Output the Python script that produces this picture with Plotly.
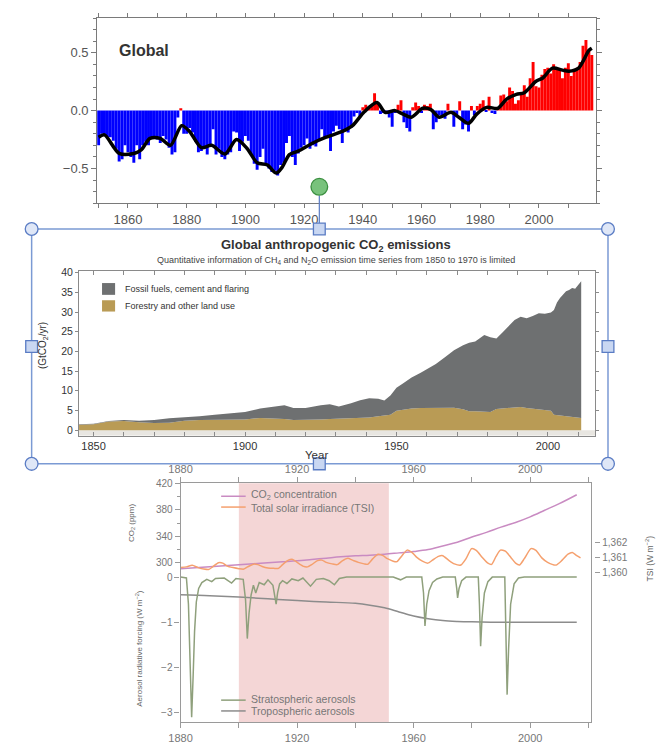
import plotly.graph_objects as go

W, H = 662, 744
def px(x):
    return x / W
def py(y):
    return 1 - y / H

FONT = "Liberation Sans"

# ---------------- Panel 1: Global temperature anomaly ----------------
temp_years = list(range(1850, 2019))
temp_anom = [
    -0.30, -0.20, -0.21, -0.24, -0.23, -0.26, -0.33, -0.44, -0.42, -0.30,
    -0.36, -0.40, -0.45, -0.30, -0.42, -0.30, -0.27, -0.30, -0.24, -0.23,
    -0.25, -0.28, -0.22, -0.25, -0.32, -0.38, -0.36, -0.06, 0.02, -0.20,
    -0.20, -0.15, -0.19, -0.27, -0.36, -0.35, -0.33, -0.38, -0.30, -0.16,
    -0.38, -0.33, -0.40, -0.42, -0.38, -0.36, -0.18, -0.19, -0.35, -0.27,
    -0.22, -0.26, -0.38, -0.46, -0.51, -0.40, -0.33, -0.47, -0.50, -0.53,
    -0.52, -0.56, -0.47, -0.45, -0.28, -0.22, -0.40, -0.47, -0.37, -0.32,
    -0.30, -0.24, -0.33, -0.30, -0.31, -0.25, -0.16, -0.24, -0.23, -0.35,
    -0.18, -0.13, -0.16, -0.28, -0.16, -0.19, -0.15, -0.05, -0.02, -0.05,
    0.03, 0.05, 0.02, 0.04, 0.15, 0.06, -0.03, -0.02, -0.03, -0.06,
    -0.14, -0.02, 0.05, 0.09, -0.10, -0.15, -0.18, 0.03, 0.07, 0.04,
    -0.02, 0.05, 0.04, 0.06, -0.16, -0.10, -0.04, -0.04, -0.07, 0.06,
    0.00, -0.14, -0.04, 0.08, -0.16, -0.12, -0.18, 0.04, -0.04, 0.04,
    0.06, 0.09, -0.01, 0.12, -0.02, -0.03, 0.03, 0.13, 0.14, 0.08,
    0.20, 0.17, 0.06, 0.09, 0.14, 0.22, 0.12, 0.28, 0.42, 0.21,
    0.20, 0.31, 0.36, 0.37, 0.32, 0.40, 0.37, 0.36, 0.28, 0.37,
    0.41, 0.30, 0.34, 0.37, 0.42, 0.56, 0.61, 0.52, 0.48,
]
smooth_years = [1850, 1852, 1857, 1862, 1864.5, 1867.5, 1871, 1874.5, 1878.3, 1881,
                1885, 1888.5, 1893, 1897, 1900.5, 1904, 1907.5, 1910.5, 1912.5, 1915,
                1918, 1923, 1927.5, 1933, 1936.5, 1940.5, 1944.8, 1947.6, 1951, 1953.7,
                1956.5, 1960.4, 1963.2, 1966, 1970, 1972.7, 1976, 1978.8, 1982.2, 1986,
                1989, 1992.3, 1995, 1999, 2001.2, 2004.6, 2008, 2010.2, 2013.5, 2017, 2018]
smooth_vals = [-0.23, -0.21, -0.37, -0.37, -0.34, -0.24, -0.24, -0.30, -0.13, -0.18,
               -0.32, -0.30, -0.375, -0.25, -0.325, -0.45, -0.47, -0.54, -0.49, -0.38,
               -0.35, -0.28, -0.23, -0.18, -0.13, -0.01, 0.07, -0.015, 0.0, -0.03,
               -0.057, 0.02, 0.008, -0.057, -0.015, -0.057, -0.11, -0.03, 0.028, 0.02,
               0.10, 0.14, 0.155, 0.254, 0.28, 0.367, 0.35, 0.34, 0.367, 0.52, 0.54]

# ---------------- Panel 2: CO2 emissions (GtCO2/yr) ----------------
emis_years = [1845, 1850, 1855, 1860, 1865, 1870, 1875, 1880, 1885, 1890,
              1895, 1900, 1905, 1910, 1913, 1916, 1920, 1925, 1928, 1931,
              1935, 1938, 1941, 1944, 1946, 1948, 1950, 1952, 1955, 1958,
              1960, 1963, 1966, 1969, 1972, 1974, 1976, 1979, 1981, 1983,
              1985, 1987, 1989, 1991, 1993, 1995, 1997, 1999, 2001, 2002,
              2003, 2004, 2005, 2006, 2007, 2008, 2009, 2010, 2011]
forestry = [1.35, 1.5, 2.2, 2.35, 2.0, 1.8, 1.9, 2.4, 2.6, 2.6,
            2.6, 2.7, 3.1, 3.0, 2.8, 2.6, 2.6, 2.7, 2.8, 2.9,
            2.9, 3.0, 3.2, 3.5, 3.7, 3.9, 4.9, 5.2, 5.5, 5.6,
            5.6, 5.6, 5.7, 5.7, 5.3, 4.8, 4.8, 4.7, 4.6, 5.4,
            5.5, 5.6, 5.8, 5.9, 5.6, 5.4, 5.2, 5.0, 4.9, 3.9,
            3.8, 3.7, 3.6, 3.6, 3.5, 3.4, 3.3, 3.2, 3.1]
fossil = [0.15, 0.1, 0.1, 0.25, 0.4, 0.8, 1.1, 0.8, 0.9, 1.3,
          1.6, 1.9, 2.4, 3.1, 3.5, 3.0, 3.0, 3.6, 3.8, 3.1,
          3.9, 4.6, 4.9, 4.5, 3.8, 4.9, 5.9, 6.6, 7.9, 9.0,
          9.8, 11.2, 12.8, 14.6, 16.3, 17.4, 17.7, 19.5, 19.0, 17.9,
          19.3, 20.7, 22.2, 22.9, 22.8, 23.6, 24.5, 24.6, 25.0, 26.6,
          28.6, 29.9, 30.9, 31.7, 32.1, 32.7, 32.6, 33.6, 34.7]

# ---------------- Panel 3: forcings ----------------
co2_years = [1880, 1885, 1890, 1895, 1900, 1905, 1910, 1915, 1920, 1925, 1930, 1935,
             1940, 1945, 1950, 1955, 1960, 1965, 1970, 1975, 1980, 1985, 1990, 1995,
             2000, 2005, 2010, 2016]
co2_ppm = [291, 292.5, 294, 295.5, 297, 298.5, 300, 301.5, 303, 305, 307, 309,
           310.5, 311.5, 313, 315, 317, 320, 325.5, 331, 339, 346, 354, 361,
           369.5, 379.5, 389.5, 403]

tsi_years = [1880, 1882, 1884, 1886, 1888, 1889.6, 1891, 1893, 1894.5, 1896, 1898, 1900,
             1901.7, 1903, 1905, 1906.5, 1908, 1910, 1912, 1913.6, 1915, 1917, 1918.5,
             1920, 1922, 1923.6, 1925, 1927, 1928.5, 1930, 1932, 1933.8, 1935.5, 1937.4,
             1939, 1941, 1943, 1944.2, 1946, 1947.8, 1949.5, 1951, 1953, 1954.3, 1956,
             1957.8, 1959.5, 1961, 1963, 1964.9, 1966.5, 1968.5, 1970, 1972, 1974,
             1976.2, 1978, 1979.9, 1981.5, 1983.5, 1985.5, 1986.8, 1988.3, 1989.8,
             1991.5, 1993.5, 1995, 1996.4, 1998, 2000.3, 2002, 2004, 2006, 2008.9,
             2011, 2013, 2014.5, 2016, 2017.3]
tsi_vals = [1360.35, 1360.40, 1360.50, 1360.35, 1360.25, 1360.22, 1360.40, 1360.68, 1360.65,
            1360.45, 1360.35, 1360.28, 1360.25, 1360.40, 1360.58, 1360.55, 1360.42, 1360.32,
            1360.30, 1360.30, 1360.55, 1360.85, 1360.90, 1360.70, 1360.45, 1360.40, 1360.55,
            1360.82, 1360.85, 1360.70, 1360.60, 1360.55, 1360.80, 1360.97, 1360.85, 1360.70,
            1360.60, 1360.57, 1360.95, 1361.25, 1361.15, 1360.95, 1360.78, 1360.75, 1361.15,
            1361.52, 1361.35, 1361.05, 1360.78, 1360.65, 1360.85, 1361.10, 1361.15, 1360.85,
            1360.60, 1360.52, 1360.95, 1361.62, 1361.50, 1361.05, 1360.65, 1360.57, 1361.10,
            1361.52, 1361.45, 1361.00, 1360.65, 1360.53, 1360.95, 1361.62, 1361.50, 1361.00,
            1360.70, 1360.52, 1360.85, 1361.25, 1361.36, 1361.15, 1361.00]

strat_years = [1880, 1882.0, 1882.7, 1883.3, 1883.8, 1884.3, 1884.8, 1885.4, 1886.2, 1887.3,
               1889, 1890.7, 1892, 1895, 1897.5, 1899, 1901.5, 1902.3, 1902.9, 1903.5,
               1904.2, 1905, 1905.8, 1907, 1908.7, 1910, 1911.7, 1912.4, 1912.8, 1913.3,
               1914, 1915, 1916.5, 1918.2, 1920.4, 1922, 1924.6, 1926.6, 1929, 1931,
               1932.8, 1934.5, 1937, 1953, 1955.5, 1957.5, 1962.8, 1963.4, 1963.9, 1964.5,
               1965.3, 1966.5, 1968, 1970, 1974.3, 1974.8, 1975.1, 1975.6, 1976.5, 1978,
               1982.2, 1982.6, 1983.0, 1983.5, 1984.3, 1985.5, 1987, 1991.3, 1991.7, 1992.1,
               1992.6, 1993.3, 1994.5, 1996, 1998, 2016]
strat_vals = [0.0, -0.02, -0.6, -2.2, -3.1, -2.2, -1.2, -0.55, -0.25, -0.12,
              -0.05, -0.10, -0.03, -0.02, -0.13, -0.03, -0.05, -0.5, -1.36, -0.8,
              -0.4, -0.18, -0.35, -0.12, -0.17, -0.06, -0.18, -0.45, -0.6, -0.35,
              -0.15, -0.08, -0.14, -0.04, -0.08, -0.02, -0.2, -0.05, -0.03, -0.08,
              -0.17, -0.03, 0.0, 0.0, -0.06, 0.0, 0.0, -0.35, -1.08, -0.6,
              -0.3, -0.12, -0.04, 0.0, 0.0, -0.25, -0.46, -0.25, -0.08, 0.0,
              0.0, -0.6, -1.53, -0.9, -0.35, -0.1, 0.0, 0.0, -1.2, -2.6,
              -1.6, -0.6, -0.15, -0.02, 0.0, 0.0]

trop_years = [1880, 1890, 1900, 1910, 1920, 1930, 1940, 1945, 1950, 1955, 1960, 1965,
              1970, 1975, 1980, 1990, 2000, 2010, 2016]
trop_vals = [-0.39, -0.41, -0.44, -0.48, -0.52, -0.55, -0.58, -0.62, -0.68, -0.77, -0.86,
             -0.92, -0.96, -0.98, -0.99, -1.0, -1.0, -1.0, -1.0]

TAN = "#b99b55"
GREY = "#6e7071"
RED = "#ff0000"
BLUE = "#0000ff"

fig = go.Figure()

bar_colors = [RED if v >= 0 else BLUE for v in temp_anom]
fig.add_trace(go.Bar(x=temp_years, y=temp_anom, width=1,
                     marker=dict(color=bar_colors, line=dict(width=0)),
                     xaxis="x", yaxis="y", showlegend=False, hoverinfo="skip"))
fig.add_trace(go.Scatter(x=smooth_years, y=smooth_vals, mode="lines",
                         line=dict(color="#000000", width=3.5, shape="spline", smoothing=0.8),
                         xaxis="x", yaxis="y", showlegend=False))

fig.add_trace(go.Scatter(x=emis_years, y=forestry, stackgroup="emis", mode="lines",
                         line=dict(width=0, color=TAN), fillcolor=TAN,
                         xaxis="x2", yaxis="y2", showlegend=False,
                         name="Forestry and other land use"))
fig.add_trace(go.Scatter(x=emis_years, y=fossil, stackgroup="emis", mode="lines",
                         line=dict(width=0, color=GREY), fillcolor=GREY,
                         xaxis="x2", yaxis="y2", showlegend=False,
                         name="Fossil fuels, cement and flaring"))

C_CO2 = "#c98bc2"
C_TSI = "#f5a06e"
C_STRAT = "#8fa07c"
C_TROP = "#8c8c8c"
fig.add_trace(go.Scatter(x=trop_years, y=trop_vals, mode="lines",
                         line=dict(color=C_TROP, width=1.5, shape="spline"),
                         xaxis="x3", yaxis="y3", showlegend=False))
fig.add_trace(go.Scatter(x=strat_years, y=strat_vals, mode="lines",
                         line=dict(color=C_STRAT, width=1.5),
                         xaxis="x3", yaxis="y3", showlegend=False))
fig.add_trace(go.Scatter(x=co2_years, y=co2_ppm, mode="lines",
                         line=dict(color=C_CO2, width=1.5, shape="spline"),
                         xaxis="x3", yaxis="y4", showlegend=False))
fig.add_trace(go.Scatter(x=tsi_years, y=tsi_vals, mode="lines",
                         line=dict(color=C_TSI, width=1.5, shape="spline", smoothing=0.6),
                         xaxis="x3", yaxis="y5", showlegend=False))
fig.add_trace(go.Scatter(x=[1880], y=[0], mode="markers", marker=dict(opacity=0),
                         xaxis="x4", yaxis="y3", showlegend=False, hoverinfo="skip"))

AX1 = "#7a7a7a"
AX2 = "#8a8a8a"
AX3 = "#9a9a9a"

layout = dict(
    width=W, height=H, autosize=False,
    margin=dict(l=0, r=0, t=0, b=0),
    paper_bgcolor="white", plot_bgcolor="white",
    font=dict(family=FONT),
    showlegend=False,
    xaxis=dict(domain=[px(86.7), px(595)], range=[1849.5, 2019.5], anchor="y",
               tick0=1860, dtick=20, ticks="outside", ticklen=4, tickcolor=AX1,
               minor=dict(tick0=1850, dtick=10, ticks="outside", ticklen=4, tickcolor=AX1),
               showline=True, linecolor=AX1, linewidth=1, mirror="allticks",
               showgrid=False, zeroline=False,
               tickfont=dict(size=13, color="#555555")),
    yaxis=dict(domain=[py(201.7), py(13.3)], range=[-0.8, 0.8], anchor="x",
               tick0=0, dtick=0.5, tickformat=".1f", ticks="outside", ticklen=5,
               tickcolor=AX1,
               minor=dict(dtick=0.1, ticks="outside", ticklen=3, tickcolor=AX1),
               showline=True, linecolor=AX1, linewidth=1, mirror="allticks",
               showgrid=False, zeroline=False,
               tickfont=dict(size=13, color="#555555")),
    xaxis2=dict(domain=[px(68.3), px(593.9)], range=[1845.2, 2015.6], anchor="y2",
                tickvals=[1850, 1900, 1950, 2000], ticks="inside", ticklen=4, tickcolor=AX2,
                minor=dict(tickvals=list(range(1850, 2011, 10)), ticks="inside", ticklen=4,
                           tickcolor=AX2),
                showline=True, linecolor=AX2, linewidth=1.2, mirror="allticks",
                showgrid=False, zeroline=False,
                tickfont=dict(size=11, color="#333333")),
    yaxis2=dict(domain=[py(438.3), py(271)], range=[-1.4, 40.37], anchor="x2",
                tickvals=list(range(0, 41, 5)), ticks="outside", ticklen=3, tickcolor=AX2,
                showline=True, linecolor=AX2, linewidth=1.2, mirror="allticks",
                showgrid=False, zeroline=False,
                tickfont=dict(size=10.5, color="#333333")),
    xaxis3=dict(domain=[px(171.7), px(590)], range=[1880, 2021], anchor="y3",
                tick0=1880, dtick=40, ticks="outside", ticklen=5, tickcolor=AX3,
                minor=dict(tick0=1880, dtick=20, ticks="outside", ticklen=5, tickcolor=AX3),
                showline=True, linecolor=AX3, linewidth=1.2, mirror=True,
                showgrid=False, zeroline=False,
                tickfont=dict(size=11, color="#777777")),
    xaxis4=dict(overlaying="x3", side="top", anchor="y3", range=[1880, 2021],
                tick0=1880, dtick=40, ticks="outside", ticklen=5, tickcolor=AX3,
                minor=dict(tick0=1880, dtick=20, ticks="outside", ticklen=5, tickcolor=AX3),
                showline=False, showgrid=False, zeroline=False,
                tickfont=dict(size=11, color="#777777")),
    yaxis3=dict(domain=[py(730), py(486.7)], range=[-3.211, 2.078], anchor="x3",
                tickvals=[0, -1, -2, -3], ticktext=["0", "\u22121", "\u22122", "\u22123"],
                ticks="outside", ticklen=5, tickcolor=AX3,
                showline=True, linecolor=AX3, linewidth=1.2, mirror=True,
                showgrid=False, zeroline=False,
                tickfont=dict(size=10, color="#777777")),
    yaxis4=dict(overlaying="y3", side="left", anchor="x3", range=[58.7, 420.45],
                tickvals=[300, 340, 380, 420], ticks="outside", ticklen=5, tickcolor=AX3,
                minor=dict(tickvals=[320, 360, 400], ticks="outside", ticklen=3,
                           tickcolor=AX3),
                showline=False, showgrid=False, zeroline=False,
                tickfont=dict(size=10, color="#777777")),
    yaxis5=dict(overlaying="y3", side="right", anchor="free", position=px(593),
                range=[1350, 1366.0],
                tickvals=[1360, 1361, 1362], ticktext=["1,360", "1,361", "1,362"],
                ticks="outside", ticklen=5, tickcolor=AX3,
                showline=False, showgrid=False, zeroline=False,
                tickfont=dict(size=10, color="#777777")),
)
fig.update_layout(**layout)


def ann(text, x, y, size, color="#333333", xanchor="center", yanchor="middle",
        angle=0, family=FONT):
    return dict(text=text, x=px(x), y=py(y), xref="paper", yref="paper",
                showarrow=False, xanchor=xanchor, yanchor=yanchor, textangle=angle,
                font=dict(size=size, color=color, family=family))


annotations = [
    ann("<b>Global</b>", 134.5, 46, 16, color="#333333"),
    ann("<b>Global anthropogenic CO<sub>2</sub> emissions</b>", 330, 245, 13),
    ann("Quantitative information of CH<sub>4</sub> and N<sub>2</sub>O emission time series "
        "from 1850 to 1970 is limited", 330, 260, 9, color="#444444"),
    ann("Fossil fuels, cement and flaring", 113, 289, 9, xanchor="left"),
    ann("Forestry and other land use", 113, 306.5, 9, xanchor="left"),
    ann("(GtCO<sub>2</sub>/yr)", 31.7, 347, 10, angle=-90),
    ann("Year", 310, 457.5, 11.5),
    ann("CO<sub>2</sub> concentration", 241.5, 499, 10.5, color="#777777", xanchor="left"),
    ann("Total solar irradiance (TSI)", 241.5, 511.5, 10.5, color="#777777", xanchor="left"),
    ann("Stratospheric aerosols", 241.5, 706.5, 10.5, color="#777777", xanchor="left"),
    ann("Tropospheric aerosols", 241.5, 718.5, 10.5, color="#777777", xanchor="left"),
    ann("CO<sub>2</sub> (ppm)", 121.5, 527, 8, color="#666666", angle=-90),
    ann("Aerosol radiative forcing (W m<sup>\u22122</sup>)", 128.5, 655, 8,
        color="#666666", angle=-90),
    ann("TSI (W m<sup>\u22122</sup>)", 649, 563, 8.5, color="#666666", angle=-90),
]

shapes = []
shapes.append(dict(type="rect", xref="x2 domain", yref="y2", x0=0, x1=1, y0=-1.4, y1=0,
                   fillcolor="#e8e6e1", line=dict(width=0), layer="below"))
shapes.append(dict(type="rect", xref="x3", yref="y3 domain", x0=1900, x1=1951.5, y0=0, y1=1,
                   fillcolor="#f4d6d6", line=dict(width=0), layer="below"))
shapes.append(dict(type="rect", xref="paper", yref="paper", x0=px(91.7), x1=px(105),
                   y0=py(295), y1=py(283), fillcolor=GREY, line=dict(width=0)))
shapes.append(dict(type="rect", xref="paper", yref="paper", x0=px(91.7), x1=px(105),
                   y0=py(312), y1=py(300.5), fillcolor=TAN, line=dict(width=0)))
for yy, col in [(500, C_CO2), (511, C_TSI), (707.5, C_STRAT), (718.5, C_TROP)]:
    shapes.append(dict(type="line", xref="paper", yref="paper", x0=px(213), x1=px(238),
                       y0=py(yy), y1=py(yy), line=dict(color=col, width=1.5)))

SEL = "#7b9ad4"
SEL_D = "#5a7cc4"
shapes.append(dict(type="rect", xref="paper", yref="paper", x0=px(20), x1=px(607),
                   y0=py(467), y1=py(228), line=dict(color=SEL, width=1.5)))
shapes.append(dict(type="line", xref="paper", yref="paper", x0=px(313), x1=px(313),
                   y0=py(194), y1=py(222), line=dict(color=SEL_D, width=1.2)))
for cx, cy in [(20, 228), (607, 228), (20, 467), (607, 467)]:
    shapes.append(dict(type="circle", xref="paper", yref="paper",
                       x0=px(cx - 6.5), x1=px(cx + 6.5), y0=py(cy + 6.5), y1=py(cy - 6.5),
                       fillcolor="#dfe7f7", line=dict(color=SEL_D, width=1.3)))
for cx, cy in [(313, 228), (313, 467), (20, 347.5), (607, 347.5)]:
    shapes.append(dict(type="rect", xref="paper", yref="paper",
                       x0=px(cx - 6), x1=px(cx + 6), y0=py(cy + 6), y1=py(cy - 6),
                       fillcolor="#c9d7f2", line=dict(color=SEL_D, width=1.3)))
shapes.append(dict(type="circle", xref="paper", yref="paper",
                   x0=px(313 - 8.5), x1=px(313 + 8.5), y0=py(185 + 8.5), y1=py(185 - 8.5),
                   fillcolor="#78c27c", line=dict(color="#3b8f40", width=1.3)))

fig.update_layout(annotations=annotations, shapes=shapes)

fig.write_html("out.html",
               config={"displayModeBar": False},
               post_script="document.body.style.margin='0';document.body.style.overflow='hidden';")
